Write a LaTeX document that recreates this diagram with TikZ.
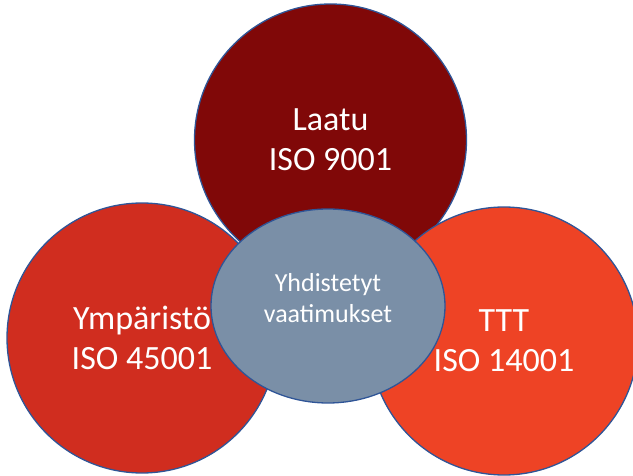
\documentclass[tikz,border=0pt]{standalone}
\usepackage{fontspec}
\setmainfont{Carlito}
\usetikzlibrary{shapes.geometric}

\definecolor{laatured}{RGB}{128,8,8}
\definecolor{ymparred}{RGB}{208,45,31}
\definecolor{tttred}{RGB}{238,67,37}
\definecolor{coregray}{RGB}{122,143,167}
\definecolor{rimblue}{RGB}{47,85,151}

\begin{document}
\begin{tikzpicture}[x=1pt,y=-1pt,
        ring/.style={circle, draw=rimblue, line width=1.3pt, text=white, align=center, inner sep=0pt,
                     font=\fontsize{34}{40}\selectfont},
        core/.style={ellipse, draw=rimblue, line width=1.3pt, fill=coregray, inner sep=0pt}]
        \useasboundingbox (0,0) rectangle (633,476);
        \node (laatu) at (330.5,140) [ring, fill=laatured, minimum size=272pt] {Laatu\\ISO 9001};
        \node (ympar) at (142,338) [ring, fill=ymparred, minimum size=270pt] {Ympäristö\\ISO 45001};
        \node (ttt) at (504,341) [ring, fill=tttred, minimum size=268pt] {TTT\\ISO 14001};
        \node (yhd) at (328,306) [core, minimum width=234pt, minimum height=194pt] {};
        \node (yhdtext) at ([yshift=8pt]yhd.center) [text=white, align=center,
                font=\fontsize{26}{31}\selectfont] {Yhdistetyt\\vaatimukset};
\end{tikzpicture}
\end{document}
